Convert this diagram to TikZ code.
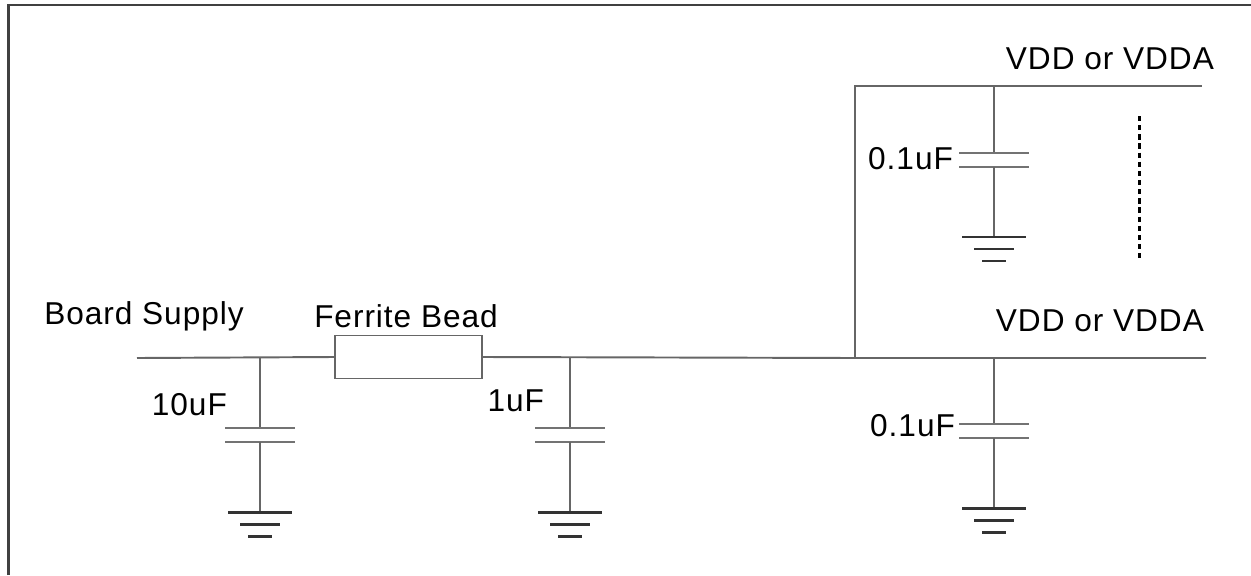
\documentclass[tikz,border=0pt]{standalone}
\usepackage{fontspec}
\setmainfont{Liberation Sans}[LetterSpace=3]
\usetikzlibrary{positioning}

\begin{document}
\begin{tikzpicture}[line cap=butt,line join=miter,x=0.02cm,y=-0.02cm,
	wire/.style={draw=black!60,line width=1.1pt},
	plate/.style={draw=black!55,line width=1.2pt},
	gnd/.style={draw=black!80,line width=1.7pt},
	frame/.style={draw=black!75,line width=1.5pt},
	bead/.style={draw=black!60,line width=1.1pt,fill=white,minimum width=2.94cm,minimum height=0.86cm,inner sep=0pt},
	lbl/.style={font=\fontsize{18}{21}\selectfont,inner sep=1pt}]
	\useasboundingbox (0,0) rectangle (1251,575);
	% frame
	\draw[frame] (8.5,575) -- (8.5,5) -- (1251,5);
	% supply rail
	\coordinate (bs) at (137,358);
	\coordinate (rail) at (855,358);
	\coordinate (railend) at (1206,358);
	\coordinate (top) at (855,86);
	\coordinate (topend) at (1202,86);
	\node[bead] (fb) at (408.5,357) {};
	\draw[wire] (bs) -- (fb.west);
	\draw[wire] (fb.east) -- (rail) -- (railend);
	\draw[wire] (rail) -- (top) -- (topend);
	% capacitors with ground
	\foreach \n/\x/\t/\p in {ca/260/358/428,cb/570/358/428,cc/994/86/153,cd/994/358/424}{
		\coordinate (\n1) at (\x,\t);
		\coordinate (\n2) at (\x,\p);
		\coordinate (\n3) at (\x,\p+14);
		\coordinate (\n4) at (\x,\p+84);
		\draw[wire] (\n1) -- (\n2);
		\draw[plate] ([xshift=-35*0.02cm]\n2) -- ([xshift=35*0.02cm]\n2);
		\draw[plate] ([xshift=-35*0.02cm]\n3) -- ([xshift=35*0.02cm]\n3);
		\draw[wire] (\n3) -- (\n4);
		\draw[gnd] ([xshift=-32*0.02cm]\n4) -- ([xshift=32*0.02cm]\n4);
		\draw[gnd] ([xshift=-20*0.02cm,yshift=-12*0.02cm]\n4) -- ([xshift=20*0.02cm,yshift=-12*0.02cm]\n4);
		\draw[gnd] ([xshift=-12*0.02cm,yshift=-24*0.02cm]\n4) -- ([xshift=12*0.02cm,yshift=-24*0.02cm]\n4);
	}
	% more pins
	\coordinate (dota) at (1139,116);
	\coordinate (dotb) at (1139,261);
	\draw[line width=1.7pt,dash pattern=on 3pt off 2.2pt] (dota) -- (dotb);
	% labels
	\node[lbl] (lbs) at (144,316) {Board Supply};
	\node[lbl] (lfb) at (406,316) {Ferrite Bead};
	\node[lbl,anchor=east] (lca) at (229,405) {10uF};
	\node[lbl,anchor=east] (lcb) at (546,401) {1uF};
	\node[lbl,anchor=east] (lcc) at (955,159) {0.1uF};
	\node[lbl,anchor=east] (lcd) at (957,426) {0.1uF};
	\node[lbl,anchor=east] (ltop) at (1216,59) {VDD or VDDA};
	\node[lbl,anchor=east] (lrail) at (1206,321) {VDD or VDDA};
\end{tikzpicture}
\end{document}
